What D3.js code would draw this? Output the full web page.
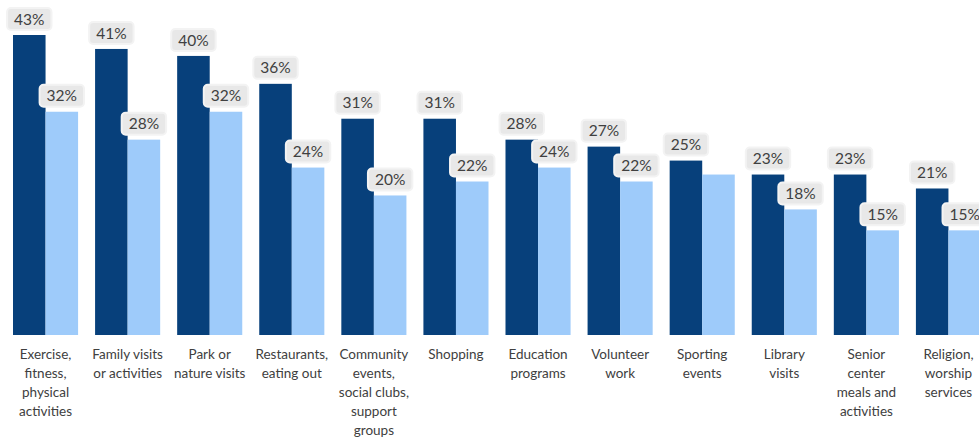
<!DOCTYPE html>
<html>
<head>
<meta charset="utf-8">
<script src="https://cdn.jsdelivr.net/npm/d3@7"></script>
<style>
  html, body { margin: 0; padding: 0; background: #ffffff; overflow: hidden; }
  svg { display: block; }
</style>
</head>
<body>
<svg id="chart" width="979" height="437"></svg>
<script>
// Activity categories (line breaks marked with "|")
const categories = [
  "Exercise,|fitness,|physical|activities",
  "Family visits|or activities",
  "Park or|nature visits",
  "Restaurants,|eating out",
  "Community|events,|social clubs,|support|groups",
  "Shopping",
  "Education|programs",
  "Volunteer|work",
  "Sporting|events",
  "Library|visits",
  "Senior|center|meals and|activities",
  "Religion,|worship|services"
];

// Percent values for the two series
const seriesA = [43, 41, 40, 36, 31, 31, 28, 27, 25, 23, 23, 21];
const seriesB = [32, 28, 32, 24, 20, 22, 24, 22, 23, 18, 15, 15];
// Whether each light bar carries a value label
const showLabelB = [true, true, true, true, true, true, true, true, false, true, true, true];

const colors = { a: "#07407b", b: "#9ecbfa" };

const svg = d3.select("#chart");
const baseline = 335;
const yTop = 35;

const x = d3.scaleBand()
  .domain(d3.range(categories.length))
  .range([13, 981])
  .paddingInner(0.207)
  .paddingOuter(0);

const xSub = d3.scaleBand()
  .domain(["a", "b"])
  .range([0, x.bandwidth()])
  .padding(0);

const y = d3.scaleLinear()
  .domain([0, 43])
  .range([baseline, yTop]);

const rows = categories.map((c, i) => ({
  i,
  vals: [
    { key: "a", v: seriesA[i], label: true },
    { key: "b", v: seriesB[i], label: showLabelB[i] }
  ]
}));

const groups = svg.append("g").selectAll("g")
  .data(rows)
  .join("g")
  .attr("transform", d => `translate(${x(d.i)},0)`);

groups.selectAll("rect.bar")
  .data(d => d.vals)
  .join("rect")
  .attr("class", "bar")
  .attr("x", d => xSub(d.key))
  .attr("y", d => y(d.v))
  .attr("width", xSub.bandwidth())
  .attr("height", d => baseline - y(d.v))
  .attr("fill", d => colors[d.key]);

// Value labels in soft grey rounded boxes
const labelFont = "Lato, 'Open Sans', sans-serif";
const lab = groups.selectAll("g.vlabel")
  .data(d => d.vals.filter(v => v.label))
  .join("g")
  .attr("class", "vlabel")
  .attr("transform", d => `translate(${xSub(d.key) + xSub.bandwidth() / 2},${y(d.v) - 16})`);

const boxes = lab.append("rect")
  .attr("fill", "#e8e8e8")
  .attr("stroke", "#f3f3f3")
  .attr("stroke-width", 2)
  .attr("rx", 4)
  .attr("ry", 4);

const texts = lab.append("text")
  .attr("text-anchor", "middle")
  .attr("dy", "0.36em")
  .attr("font-family", labelFont)
  .attr("font-size", 15.5)
  .attr("fill", "#404040")
  .text(d => d.v + "%");

texts.each(function() {
  const w = this.getComputedTextLength();
  d3.select(this.parentNode).select("rect")
    .attr("x", -w / 2 - 7)
    .attr("y", -11)
    .attr("width", w + 14)
    .attr("height", 22);
});

// Category labels along the bottom
const catG = svg.append("g").selectAll("text")
  .data(categories)
  .join("text")
  .attr("text-anchor", "middle")
  .attr("font-family", labelFont)
  .attr("font-size", 13.5)
  .attr("fill", "#404040")
  .attr("transform", (d, i) => `translate(${x(i) + x.bandwidth() / 2},359)`);

catG.selectAll("tspan")
  .data(d => d.split("|"))
  .join("tspan")
  .attr("x", 0)
  .attr("dy", (d, j) => j === 0 ? 0 : 19)
  .text(d => d);
</script>
</body>
</html>
